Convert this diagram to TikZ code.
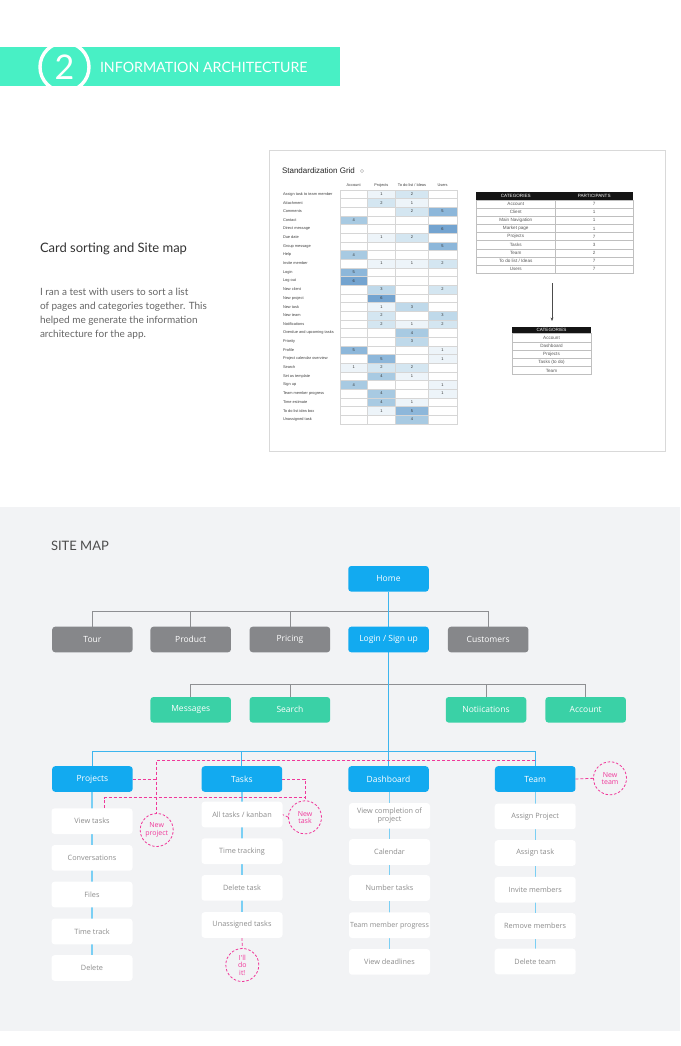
\documentclass[tikz,border=0pt]{standalone}
\usepackage{fontspec}
\setmainfont{Lato}
\newfontfamily\osans{Open Sans}
\newfontfamily\arial{Liberation Sans}
\usetikzlibrary{arrows.meta}
\pgfdeclarelayer{bg}
\pgfdeclarelayer{lines}
\pgfsetlayers{bg,lines,main}
\definecolor{mint}{HTML}{48F0C5}
\definecolor{titletxt}{HTML}{333333}
\definecolor{paratxt}{HTML}{666666}
\definecolor{sitebg}{HTML}{F2F3F5}
\definecolor{mblue}{HTML}{12AAF0}
\definecolor{lblue}{HTML}{3DB5EE}
\definecolor{lblue2}{HTML}{7ACFF4}
\definecolor{mgray}{HTML}{86878A}
\definecolor{mgreen}{HTML}{3AD1A6}
\definecolor{mpink}{HTML}{F0389A}
\definecolor{subtxt}{HTML}{8C8C8C}
\definecolor{lgray}{HTML}{8E8F92}
\definecolor{cardline}{HTML}{D9D9D9}
\definecolor{gridline}{HTML}{D6D6D6}
\definecolor{g0}{HTML}{FFFFFF}
\definecolor{g1}{HTML}{EDF4F9}
\definecolor{g2}{HTML}{D4E6F1}
\definecolor{g3}{HTML}{BFD9EA}
\definecolor{g4}{HTML}{A8CAE2}
\definecolor{g5}{HTML}{8DB7DA}
\definecolor{g6}{HTML}{74A4D0}
\newcommand\gcell[5]{%
  \filldraw[draw=gridline, line width=0.4pt, fill=g#4] (#1,#3) rectangle (#2,#3+8.67);
  \ifnum#4>0 \node[cellnum] (#5) at ({(#1+#2)/2},#3+4.4) {#4};\fi}
\begin{document}
\begin{tikzpicture}[x=1pt,y=-1pt,
  every node/.style={inner sep=0pt, outer sep=0pt},
  sbox/.style={rounded corners=3pt, minimum width=80.5pt, minimum height=25.6pt, font=\osans\fontsize{8.5}{10}\selectfont, text=white},
  bluebox/.style={sbox, fill=mblue},
  graybox/.style={sbox, fill=mgray},
  greenbox/.style={sbox, fill=mgreen},
  subbox/.style={rounded corners=3pt, minimum width=81pt, minimum height=25.6pt, fill=white, text=subtxt, font=\osans\fontsize{7.3}{8.3}\selectfont, align=center},
  pinkc/.style={circle, draw=mpink, dash pattern=on 2.5pt off 1.8pt, line width=0.8pt, minimum size=33pt, text=mpink, font=\osans\fontsize{7}{7.4}\selectfont, align=center},
  pinkline/.style={draw=mpink, dash pattern=on 3pt off 2pt, line width=0.8pt},
  blueln/.style={draw=lblue, line width=1pt},
  colln/.style={draw=lblue2, line width=1.2pt},
  grayln/.style={draw=lgray, line width=0.8pt},
  rowlab/.style={anchor=west, font=\arial\fontsize{3.9}{4.5}\selectfont, text=black!75},
  colhead/.style={font=\arial\fontsize{3.9}{4.5}\selectfont, text=black!75},
  cellnum/.style={font=\arial\fontsize{4}{4.5}\selectfont, text=black!80},
  tabhead/.style={font=\arial\fontsize{4.6}{5}\selectfont, text=white},
  tabtxt/.style={font=\arial\fontsize{4.6}{5}\selectfont, text=black!65},
  tabline/.style={draw=black!25, line width=0.4pt},
  paraline/.style={anchor=base west, text=paratxt, font=\fontsize{10}{11}\selectfont}
]
\useasboundingbox (0,0) rectangle (680,1046);
\begin{pgfonlayer}{bg}
  \fill[white] (0,0) rectangle (680,1046);
  \fill[sitebg] (0,507) rectangle (680,1031);
\end{pgfonlayer}

% ---------- header ----------
\fill[mint] (0,47) rectangle (340,86);
\draw[white, line width=3.4pt] (64.5,67) circle[radius=24.5pt];
\node[text=white, font=\fontsize{34}{34}\selectfont] (two) at (64.5,67.5) {2};
\node[anchor=west, text=white, font=\fontsize{14.2}{14.2}\selectfont] (iatitle) at (100,67.5) {INFORMATION ARCHITECTURE};

% ---------- left text ----------
\node[anchor=base west, text=titletxt, font=\fontsize{13}{13}\selectfont] (cstitle) at (40,252.5) {Card sorting and Site map};
\node[paraline] (p1) at (40,295.5) {I ran a test with users to sort a list};
\node[paraline] (p2) at (40,309.5) {of pages and categories together. This};
\node[paraline] (p3) at (40,323.5) {helped me generate the information};
\node[paraline] (p4) at (40,337.5) {architecture for the app.};

% ---------- grid card ----------
\filldraw[fill=white, draw=cardline, line width=0.8pt] (269,150) rectangle (665,451);
\node[anchor=west, text=black!85, font=\arial\fontsize{8}{9}\selectfont] (sgtitle) at (282,170.5) {Standardization Grid};
\draw[black!35, line width=0.4pt] (362,171) circle[radius=1.6pt];
\node[colhead] (hacc) at (353.6,185) {Account};
\node[colhead] (hproj) at (381.4,185) {Projects};
\node[colhead] (htodo) at (412,185) {To do list / Ideas};
\node[colhead] (husers) at (442.6,185) {Users};
\foreach \lab/\va/\vp/\vt/\vu [count=\i from 0] in {
Assign task to team member/0/1/2/0,
Attachment/0/2/1/0,
Comments/0/0/2/5,
Contact/4/0/0/0,
Direct message/0/0/0/6,
Due date/0/1/2/0,
Group message/0/0/0/5,
Help/4/0/0/0,
Invite member/0/1/1/2,
Login/5/0/0/0,
Log out/6/0/0/0,
New client/0/3/0/2,
New project/0/6/0/0,
New task/0/1/3/0,
New team/0/2/0/3,
Notifications/0/2/1/2,
Overdue and upcoming tasks/0/0/4/0,
Priority/0/0/3/0,
Profile/5/0/0/1,
Project calendar overview/0/5/0/1,
Search/1/2/2/0,
Set as template/0/4/1/0,
Sign up/4/0/0/1,
Team member progress/0/4/0/1,
Time estimate/0/4/1/0,
To do list idea box/0/1/5/0,
Unassigned task/0/0/4/0}{
  \pgfmathsetmacro\yy{189.7+\i*8.67}
  \node[rowlab] (rl\i) at (283,\yy+4.4) {\lab};
  \gcell{340}{367.3}{\yy}{\va}{ca\i}
  \gcell{367.3}{395.5}{\yy}{\vp}{cp\i}
  \gcell{395.5}{428.5}{\yy}{\vt}{ct\i}
  \gcell{428.5}{456.7}{\yy}{\vu}{cu\i}
}

% ---------- categories tables ----------
\fill[black!92] (476,192.3) rectangle (633,199.7);
\node[tabhead] (cath) at (515.75,196.2) {CATEGORIES};
\node[tabhead] (parth) at (594.25,196.2) {PARTICIPANTS};
\foreach \c/\n [count=\i from 0] in {Account/7,Client/1,Main Navigation/1,Market page/1,Projects/7,Tasks/3,Team/2,{To do list / Ideas}/7,Users/7}{
  \pgfmathsetmacro\yy{199.7+\i*8.17}
  \draw[tabline] (476,\yy) rectangle (555.5,\yy+8.17);
  \draw[tabline] (555.5,\yy) rectangle (633,\yy+8.17);
  \node[tabtxt] (cat\i) at (515.75,\yy+4.3) {\c};
  \node[tabtxt] (par\i) at (594.25,\yy+4.3) {\n};
}
\coordinate (arA) at (552,283);
\coordinate (arB) at (552,321);
\draw[black!70, line width=0.5pt, -{Stealth[length=3.5pt,width=2.8pt]}] (arA) -- (arB);
\fill[black!92] (512,326.5) rectangle (591,333.5);
\node[tabhead] (cat2h) at (551.5,330.2) {CATEGORIES};
\foreach \c [count=\i from 0] in {Account,Dashboard,Projects,Tasks (to do),Team}{
  \pgfmathsetmacro\yy{333.5+\i*8.2}
  \draw[tabline] (512,\yy) rectangle (591,\yy+8.2);
  \node[tabtxt] (sc\i) at (551.5,\yy+4.3) {\c};
}

% ---------- site map ----------
\node[anchor=west, text=black!70, font=\fontsize{13}{13}\selectfont] (smtitle) at (51,546) {SITE MAP};

\node[bluebox] (home) at (388.5,578.8) {Home};
\node[graybox] (tour) at (92.4,639.5) {Tour};
\node[graybox] (product) at (190.7,639.5) {Product};
\node[graybox] (pricing) at (289.9,639.5) {Pricing};
\node[bluebox] (login) at (388.5,639.5) {Login / Sign up};
\node[graybox] (customers) at (488.2,639.5) {Customers};

\node[greenbox] (messages) at (190.7,709.8) {Messages};
\node[greenbox] (search) at (289.9,709.8) {Search};
\node[greenbox] (notif) at (486,709.8) {Notiications};
\node[greenbox] (account) at (585.7,709.8) {Account};

\node[bluebox] (projects) at (92.4,779) {Projects};
\node[bluebox] (tasks) at (241.9,779) {Tasks};
\node[bluebox] (dashboard) at (388.5,779) {Dashboard};
\node[bluebox] (team) at (535.2,779) {Team};

\node[subbox] (p1s) at (92,821.2) {View tasks};
\node[subbox] (p2s) at (92,857.9) {Conversations};
\node[subbox] (p3s) at (92,894.5) {Files};
\node[subbox] (p4s) at (92,931.5) {Time track};
\node[subbox] (p5s) at (92,968) {Delete};

\node[subbox] (t1s) at (242,814.5) {All tasks / kanban};
\node[subbox] (t2s) at (242,851.2) {Time tracking};
\node[subbox] (t3s) at (242,887.9) {Delete task};
\node[subbox] (t4s) at (242,925) {Unassigned tasks};

\node[subbox] (d1s) at (389.5,815.9) {View completion of\\project};
\node[subbox] (d2s) at (389.5,852) {Calendar};
\node[subbox] (d3s) at (389.5,888) {Number tasks};
\node[subbox, font=\osans\fontsize{7.1}{8.3}\selectfont] (d4s) at (389.5,925.2) {Team member progress};
\node[subbox] (d5s) at (389.5,961.9) {View deadlines};

\node[subbox] (m1s) at (535.2,816.4) {Assign Project};
\node[subbox] (m2s) at (535.2,853) {Assign task};
\node[subbox] (m3s) at (535.2,889.7) {Invite members};
\node[subbox] (m4s) at (535.2,926) {Remove members};
\node[subbox] (m5s) at (535.2,961.5) {Delete team};

\node[pinkc] (newproj) at (156.7,830) {New\\project};
\node[pinkc] (newtask) at (305,817.3) {New\\task};
\node[pinkc] (illdo) at (242.3,965) {I'll\\do\\it!};
\node[pinkc] (newteam) at (610,778.3) {New\\team};

\coordinate (gbarA) at (0,611.3);
\coordinate (gbarB) at (0,684.3);
\coordinate (bbar) at (0,751);
\coordinate (pbar) at (0,760);
\coordinate (pk2) at (104.3,797.7);

\begin{pgfonlayer}{lines}
  \draw[grayln] (tour.north) -- (tour.north |- gbarA) -- (customers.north |- gbarA) -- (customers.north);
  \draw[grayln] (product.north) -- (product.north |- gbarA);
  \draw[grayln] (pricing.north) -- (pricing.north |- gbarA);
  \draw[grayln] (messages.north) -- (messages.north |- gbarB) -- (account.north |- gbarB) -- (account.north);
  \draw[grayln] (search.north) -- (search.north |- gbarB);
  \draw[grayln] (notif.north) -- (notif.north |- gbarB);
  \draw[blueln] (home.south) -- (login.north);
  \draw[blueln] (login.south) -- (dashboard.north);
  \draw[blueln] (projects.north) -- (projects.north |- bbar) -- (team.north |- bbar) -- (team.north);
  \draw[blueln] (tasks.north) -- (tasks.north |- bbar);
  \draw[colln] (projects.south -| p1s.north) -- (p5s.north);
  \draw[colln] (tasks.south -| t1s.north) -- (t4s.north);
  \draw[colln] (dashboard.south -| d1s.north) -- (d5s.north);
  \draw[colln] (team.south -| m1s.north) -- (m5s.north);
  \draw[pinkline] (team.north |- pbar) -- (newproj.north |- pbar) -- (newproj.north);
  \draw[pinkline] (projects.east) -- (projects.east -| newproj.north);
  \draw[pinkline] (tasks.east) -- (tasks.east -| newtask.north) -- (newtask.north);
  \draw[pinkline] (p1s.north -| pk2) -- (pk2) -- (pk2 -| newtask.north);
  \draw[pinkline] (newtask.west) -- (t1s.east);
  \draw[pinkline] (t4s.south) -- (illdo.north);
  \draw[pinkline] (team.east) -- (newteam.west);
\end{pgfonlayer}
\end{tikzpicture}
\end{document}
